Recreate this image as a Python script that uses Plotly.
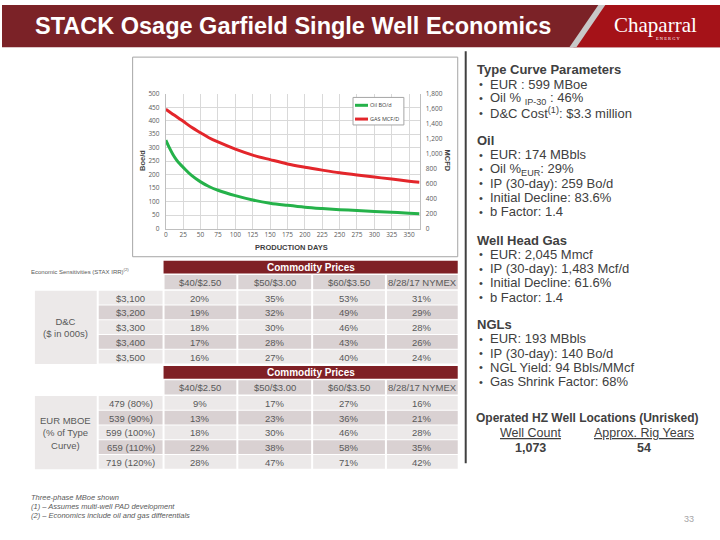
import plotly.graph_objects as go

# ---------------- data ----------------
days = [0, 5, 10, 15, 20, 25, 37, 50, 62, 75, 100, 125, 150, 175, 200, 225, 250, 275, 300, 325, 350, 365]
oil_bopd = [328, 300, 276, 256, 240, 227, 197, 173, 156, 142, 122, 106, 94, 86, 79, 74, 70, 67, 63, 60, 57, 55]
gas_mcfd = [1594, 1560, 1528, 1496, 1464, 1432, 1352, 1279, 1213, 1156, 1060, 981, 920, 863, 819, 780, 744, 714, 687, 661, 632, 617]
x_ticks = list(range(0, 351, 25))
series_names = ["Oil BO/d", "GAS MCF/D"]
series_colors = ["#25b24a", "#e3262b"]

price_cols = ["$40/$2.50", "$50/$3.00", "$60/$3.50", "8/28/17 NYMEX"]
dc_costs = ["$3,100", "$3,200", "$3,300", "$3,400", "$3,500"]
irr_dc = [[20, 35, 53, 31], [19, 32, 49, 29], [18, 30, 46, 28], [17, 28, 43, 26], [16, 27, 40, 24]]
eur_cases = ["479 (80%)", "539 (90%)", "599 (100%)", "659 (110%)", "719 (120%)"]
irr_eur = [[9, 17, 27, 16], [13, 23, 36, 21], [18, 30, 46, 28], [22, 38, 58, 35], [28, 47, 71, 42]]

tc_params = ["EUR : 599 MBoe", "Oil % <sub>IP-30</sub> : 46%", "D&C Cost<sup>(1)</sup>: $3.3 million"]
oil_params = ["EUR: 174 MBbls", "Oil %<sub>EUR</sub>: 29%", "IP (30-day): 259 Bo/d", "Initial Decline: 83.6%", "b Factor: 1.4"]
gas_params = ["EUR: 2,045 Mmcf", "IP (30-day): 1,483 Mcf/d", "Initial Decline: 61.6%", "b Factor: 1.4"]
ngl_params = ["EUR: 193 MBbls", "IP (30-day): 140 Bo/d", "NGL Yield: 94 Bbls/MMcf", "Gas Shrink Factor: 68%"]
loc_headers = ["Well Count", "Approx. Rig Years"]
loc_values = ["1,073", "54"]
footnotes = ["Three-phase MBoe shown", "(1) \u2013 Assumes multi-well PAD development",
             "(2) \u2013 Economics include oil and gas differentials"]

# ---------------- helpers ----------------
W, H = 720, 540
def X(p): return p / W
def Y(p): return 1 - p / H

FONT = "Liberation Sans, Arial, sans-serif"
TXT = "#404040"
GRAY = "#595959"
shapes, ann = [], []

def rect(x0, y0, x1, y1, fill, line=None, lw=0, layer="below"):
    shapes.append(dict(type="rect", xref="paper", yref="paper", x0=X(x0), x1=X(x1), y0=Y(y1), y1=Y(y0),
                       fillcolor=fill, line=dict(color=line or fill, width=lw), layer=layer))

def text(x, y, s, size, color=TXT, xanchor="left", bold=False, angle=0, family=FONT):
    if bold:
        s = "<b>" + s + "</b>"
    ann.append(dict(xref="paper", yref="paper", x=X(x), y=Y(y), text=s, showarrow=False, xanchor=xanchor,
                    yanchor="middle", textangle=angle, font=dict(size=size, color=color, family=family)))

# ---------------- header ----------------
rect(0, 0, 720, 43, "#7b2227")
shapes.append(dict(type="path", xref="paper", yref="paper",
                   path=f"M {X(602)} {Y(0)} L {X(720)} {Y(0)} L {X(720)} {Y(43)} L {X(573)} {Y(43)} Z",
                   fillcolor="#a51218", line=dict(width=0)))
shapes.append(dict(type="path", xref="paper", yref="paper",
                   path=f"M {X(598)} {Y(0)} L {X(605)} {Y(0)} L {X(576)} {Y(43)} L {X(569)} {Y(43)} Z",
                   fillcolor="#c8c8c8", line=dict(width=0)))
text(31, 21, "STACK Osage Garfield Single Well Economics", 23.5, "white", bold=True)
text(612, 20, "Chaparral", 21, "white", family="Liberation Serif, DejaVu Serif, serif")
text(668, 34, "E N E R G Y", 4.5, "white", xanchor="center", family="Liberation Serif, serif")

# chart frame & divider
shapes.append(dict(type="rect", xref="paper", yref="paper", x0=X(131), x1=X(457), y0=Y(256), y1=Y(53),
                   line=dict(color="#a6a6a6", width=1), fillcolor="rgba(0,0,0,0)", layer="below"))
shapes.append(dict(type="line", xref="paper", yref="paper", x0=X(465), x1=X(465), y0=Y(47), y1=Y(466),
                   line=dict(color="#404040", width=2)))

# ---------------- chart ----------------
fig = go.Figure()
fig.add_trace(go.Scatter(x=days, y=oil_bopd, name=series_names[0], mode="lines",
                         line=dict(color=series_colors[0], width=3, shape="spline"), yaxis="y"))
fig.add_trace(go.Scatter(x=days, y=gas_mcfd, name=series_names[1], mode="lines",
                         line=dict(color=series_colors[1], width=3, shape="spline"), yaxis="y2"))

# legend box (drawn to match the small Excel legend)
rect(352, 94, 403, 122, "white", line="#a6a6a6", lw=1, layer="above")
for k, (nm, col) in enumerate(zip(series_names, series_colors)):
    yy = 102 + 14 * k
    shapes.append(dict(type="line", xref="paper", yref="paper", x0=X(354), x1=X(367), y0=Y(yy), y1=Y(yy),
                       line=dict(color=col, width=3), layer="above"))
    text(367.5, yy, nm, 5.5, TXT, family="Open Sans, sans-serif")

tickfont = dict(size=6.5, color=GRAY, family="Open Sans, sans-serif")
text(141, 158, "Boe/d", 7.5, bold=True, xanchor="center", angle=-90)
text(447, 158, "MCFD", 7.5, bold=True, xanchor="center", angle=90)
text(290, 247, "PRODUCTION DAYS", 7.5, bold=True, xanchor="center")

# ---------------- tables ----------------
col_x = [(163, 235), (237, 310), (312, 384), (386, 457)]
LIGHT, DARK, HDR = "#ece9e9", "#d9d1d2", "#dad3d4"

def table(bar_y, hdr_y0, row_y0, row_labels, values, side_label):
    rect(162, bar_y, 457, bar_y + 13, "#7f2025")
    text(309.5, bar_y + 6.5, "Commodity Prices", 10, "white", xanchor="center", bold=True)
    for j, (a, b) in enumerate(col_x):
        rect(a, hdr_y0, b, hdr_y0 + 14.5, HDR)
        text((a + b) / 2, hdr_y0 + 7.5, price_cols[j], 9.5, GRAY, xanchor="center")
    rect(33, row_y0, 95, row_y0 + 74.5, LIGHT)
    text(64, row_y0 + 37.5, side_label, 9.5, GRAY, xanchor="center")
    for i, lab in enumerate(row_labels):
        y0 = row_y0 + 15 * i
        fill = DARK if i % 2 else LIGHT
        rect(97, y0, 161, y0 + 14, fill)
        text(129, y0 + 7.5, lab, 9.5, GRAY, xanchor="center")
        for j, (a, b) in enumerate(col_x):
            rect(a, y0, b, y0 + 14, fill)
            text((a + b) / 2, y0 + 7.5, f"{values[i][j]}%", 9.5, GRAY, xanchor="center")

text(27, 270, "Economic Sensitivities (STAX IRR)<sup>(2)</sup>", 6, GRAY)
table(260, 274.5, 290.5, dc_costs, irr_dc, "D&C<br>($ in 000s)")
table(367, 381.5, 397.5, eur_cases, irr_eur, "EUR MBOE<br>(% of Type<br>Curve)")

# ---------------- right text ----------------
def block(y, title, items):
    text(474, y, title, 13, bold=True)
    for k, s in enumerate(items):
        yy = y + 14.5 * (k + 1)
        text(476, yy, "\u2022", 11)
        text(487, yy, s, 13)

block(66, "Type Curve Parameters", tc_params)
block(138, "Oil", oil_params)
block(239, "Well Head Gas", gas_params)
block(325, "NGLs", ngl_params)
text(587, 420, "Operated HZ Well Locations (Unrisked)", 12, bold=True, xanchor="center")
for cx, h, v in zip([530, 644], loc_headers, loc_values):
    text(cx, 435, f"<u>{h}</u>", 12.5, xanchor="center")
    text(cx, 451, v, 12.5, bold=True, xanchor="center")

# ---------------- footnotes ----------------
for k, s in enumerate(footnotes):
    text(27, 501 + 9 * k, f"<i>{s}</i>", 7.5, GRAY)
text(696, 523, "33", 9, "#a6a6a6", xanchor="right")

fig.update_layout(
    width=W, height=H, margin=dict(l=0, r=0, t=0, b=0),
    paper_bgcolor="white", plot_bgcolor="white",
    shapes=shapes, annotations=ann, showlegend=False,
    xaxis=dict(domain=[X(164.3), X(418.7)], range=[0, 365], tickvals=x_ticks, showgrid=True,
               gridcolor="#d9d9d9", gridwidth=1, showline=True, linecolor="#bfbfbf", zeroline=False,
               tickfont=tickfont, ticks="", anchor="y"),
    yaxis=dict(domain=[Y(227.3), Y(90.3)], range=[0, 500], dtick=50, showgrid=True, gridcolor="#d9d9d9",
               showline=True, linecolor="#bfbfbf", zeroline=False, tickfont=tickfont, ticks="",
               ticklabelstandoff=4),
    yaxis2=dict(overlaying="y", side="right", range=[0, 1800], dtick=200, tickformat=",", showgrid=False,
                showline=True, linecolor="#bfbfbf", zeroline=False, tickfont=tickfont, ticks="",
                ticklabelstandoff=4, anchor="x"),
)
fig.write_html("out.html", config={"displayModeBar": False},
               post_script="document.body.style.margin='0';document.body.style.overflow='hidden';")
